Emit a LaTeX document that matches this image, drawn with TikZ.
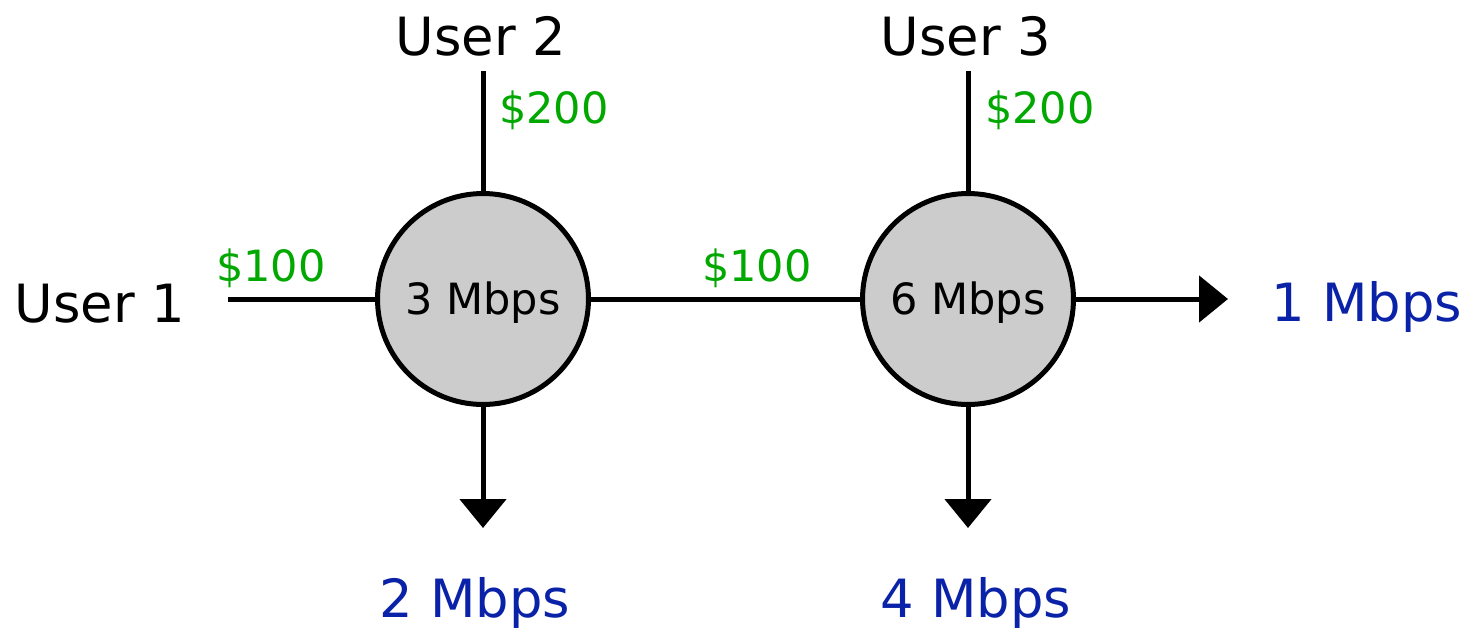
\documentclass[tikz,border=0pt]{standalone}
\usepackage{fontspec}
\setmainfont{DejaVu Sans}
\usetikzlibrary{arrows.meta}
\definecolor{cost-green}{HTML}{00A800}
\definecolor{rate-blue}{HTML}{0A22A8}
\definecolor{router-gray}{HTML}{CCCCCC}

\begin{document}
\begin{tikzpicture}[x=0.02cm, y=-0.02cm, line width=0.1cm,
    every node/.style={inner sep=0pt},
    big/.style={font=\fontsize{30}{36}\selectfont},
    small/.style={font=\fontsize{24.5}{30}\selectfont},
    router/.style={draw, circle, fill=router-gray, minimum size=4.22cm, small,
      text height=23.5pt, text depth=5.8pt},
    flow/.style={-{Triangle[width=0.92cm, length=0.58cm]}}]
    \useasboundingbox (0,0) rectangle (1474,632);
    % routers
    \node[router] (r1) at (483, 299) {3 Mbps};
    \node[router] (r2) at (968, 299) {6 Mbps};
    % users
    \node[big] (u1) at (100, 304) {User 1};
    \node[big] (u2) at (481, 36) {User 2};
    \node[big] (u3) at (966, 36) {User 3};
    \coordinate (u1end) at (228, 299);
    \coordinate (u2end) at (483, 71);
    \coordinate (u3end) at (968, 71);
    \draw (u1end) -- (r1.west);
    \draw (u2end) -- (r1.north);
    \draw (u3end) -- (r2.north);
    \draw (r1.east) -- (r2.west);
    % outputs
    \node[big, text=rate-blue] (o1) at (1367, 307) {1 Mbps};
    \node[big, text=rate-blue] (o2) at (475, 603) {2 Mbps};
    \node[big, text=rate-blue] (o4) at (976, 603) {4 Mbps};
    \coordinate (o1tip) at (1228, 299);
    \coordinate (o2tip) at (483, 528);
    \coordinate (o4tip) at (968, 528);
    \draw[flow] (r2.east) -- (o1tip);
    \draw[flow] (r1.south) -- (o2tip);
    \draw[flow] (r2.south) -- (o4tip);
    % payments
    \node[small, text=cost-green] (p1) at (271, 268) {\$100};
    \node[small, text=cost-green] (p2) at (554, 110) {\$200};
    \node[small, text=cost-green] (p3) at (757, 268) {\$100};
    \node[small, text=cost-green] (p4) at (1040, 110) {\$200};
  \end{tikzpicture}
\end{document}
